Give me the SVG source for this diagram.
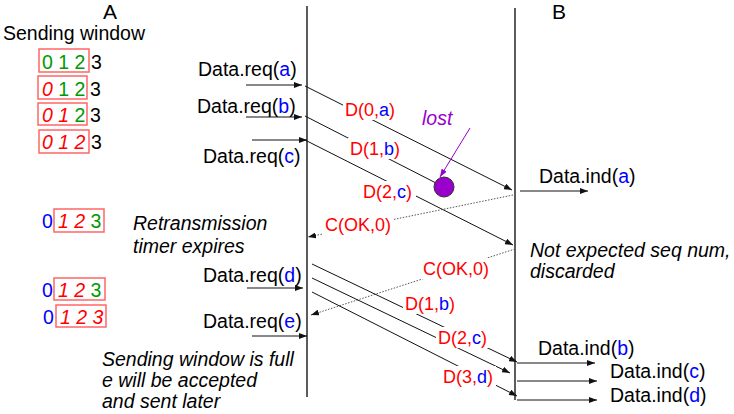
<svg xmlns="http://www.w3.org/2000/svg" width="734" height="414" viewBox="0 0 734 414">
<style>
text{font-family:"Liberation Sans",Arial,sans-serif;font-size:19.5px;fill:#000}
.lbl{font-size:18px;fill:#f00}
.hd{font-size:21px}
.it{font-style:italic}
.g{fill:#009900}
.r{fill:#f00;font-style:italic}
.b{fill:#00f}
.win{fill:none;stroke:#f66;stroke-width:1.5}
.ln{stroke:#111;stroke-width:1;fill:none}
.dot{stroke:#555;stroke-width:1;stroke-dasharray:1.5,1.5;fill:none}
.life{stroke:#333;stroke-width:1.6}
.bg{fill:#fff}
</style>
<defs>
<marker id="ah" markerUnits="userSpaceOnUse" markerWidth="8" markerHeight="6" refX="8" refY="3" orient="auto"><path d="M0,0 L8,3 L0,6 z" fill="#111"/></marker>
<marker id="ahp" markerUnits="userSpaceOnUse" markerWidth="8" markerHeight="6" refX="8" refY="3" orient="auto"><path d="M0,0 L8,3 L0,6 z" fill="#9900cc"/></marker>
</defs>

<g id="lifelines">
<line class="life" x1="307" y1="6" x2="307" y2="397"/>
<line class="life" x1="515" y1="8" x2="515" y2="400"/>
<text class="hd" x="103" y="19">A</text>
<text class="hd" x="552" y="19">B</text>
</g>

<g id="window-states">
<text x="3" y="40">Sending window</text>
<rect class="win" x="39" y="49" width="50" height="23"/>
<text x="42" y="69"><tspan class="g">0 1 2</tspan></text><text x="91" y="69">3</text>
<rect class="win" x="38" y="76" width="49" height="23"/>
<text x="42" y="96"><tspan class="r">0</tspan><tspan class="g"> 1 2</tspan></text><text x="90" y="96">3</text>
<rect class="win" x="38" y="103" width="49" height="22"/>
<text x="42" y="122"><tspan class="r">0 1</tspan><tspan class="g"> 2</tspan></text><text x="90" y="122">3</text>
<rect class="win" x="39" y="130" width="50" height="23"/>
<text x="42" y="149"><tspan class="r">0 1 2</tspan></text><text x="91" y="149">3</text>

<text x="42" y="228" class="b">0</text>
<rect class="win" x="54" y="209" width="50" height="23"/>
<text x="58" y="228"><tspan class="r">1 2</tspan><tspan class="g"> 3</tspan></text>
<text x="42" y="297" class="b">0</text>
<rect class="win" x="54" y="278" width="51" height="22"/>
<text x="58" y="297"><tspan class="r">1 2</tspan><tspan class="g"> 3</tspan></text>
<text x="43" y="324" class="b">0</text>
<rect class="win" x="56" y="305" width="50" height="22"/>
<text x="60" y="324"><tspan class="r">1 2 3</tspan></text>
</g>

<g id="connectors">
<line class="ln" x1="246" y1="85" x2="302" y2="85" marker-end="url(#ah)"/>
<line class="ln" x1="246" y1="117" x2="302" y2="117" marker-end="url(#ah)"/>
<line class="ln" x1="252" y1="140" x2="307" y2="140" marker-end="url(#ah)"/>
<line class="ln" x1="247" y1="288" x2="303" y2="288" marker-end="url(#ah)"/>
<line class="ln" x1="252" y1="336" x2="307" y2="336" marker-end="url(#ah)"/>

<line class="ln" x1="305" y1="86" x2="512" y2="190" marker-end="url(#ah)"/>
<line class="ln" x1="305" y1="116" x2="436" y2="183"/>
<line class="ln" x1="305" y1="140" x2="513" y2="245" marker-end="url(#ah)"/>
<line class="dot" x1="513" y1="195" x2="308" y2="237" marker-end="url(#ah)"/>
<line class="dot" x1="515" y1="249" x2="311" y2="315" marker-end="url(#ah)"/>
<line class="ln" x1="312" y1="264" x2="517" y2="362" marker-end="url(#ah)"/>
<line class="ln" x1="312" y1="278" x2="510" y2="373" marker-end="url(#ah)"/>
<line class="ln" x1="312" y1="292" x2="517" y2="396" marker-end="url(#ah)"/>

<line class="ln" x1="520" y1="191" x2="588" y2="191" marker-end="url(#ah)"/>
<line class="ln" x1="517" y1="363" x2="595" y2="363" marker-end="url(#ah)"/>
<line class="ln" x1="517" y1="381" x2="597" y2="381" marker-end="url(#ah)"/>
<line class="ln" x1="517" y1="400" x2="597" y2="400" marker-end="url(#ah)"/>

<line x1="470" y1="128" x2="440" y2="177" stroke="#9900cc" stroke-width="1" marker-end="url(#ahp)"/>
</g>

<g id="loss">
<circle cx="444" cy="187" r="10" fill="#9900cc" stroke="#333" stroke-width="1"/>
<text x="422" y="125" class="it" style="fill:#9900cc">lost</text>
</g>

<g id="message-labels">
<rect class="bg" x="343" y="99" width="55" height="21"/>
<text class="lbl" x="345" y="116">D(0,<tspan class="b">a</tspan>)</text>
<rect class="bg" x="348" y="138" width="55" height="21"/>
<text class="lbl" x="350" y="155">D(1,<tspan class="b">b</tspan>)</text>
<rect class="bg" x="361" y="181" width="55" height="21"/>
<text class="lbl" x="363" y="198">D(2,<tspan class="b">c</tspan>)</text>
<rect class="bg" x="323" y="214" width="70" height="21"/>
<text class="lbl" x="325" y="231">C(OK,0)</text>
<rect class="bg" x="421" y="258" width="70" height="21"/>
<text class="lbl" x="423" y="275">C(OK,0)</text>
<rect class="bg" x="403" y="293" width="55" height="21"/>
<text class="lbl" x="405" y="310">D(1,<tspan class="b">b</tspan>)</text>
<rect class="bg" x="436" y="327" width="55" height="21"/>
<text class="lbl" x="438" y="344">D(2,<tspan class="b">c</tspan>)</text>
<rect class="bg" x="441" y="366" width="55" height="21"/>
<text class="lbl" x="443" y="383">D(3,<tspan class="b">d</tspan>)</text>
</g>

<g id="primitives">
<text x="198" y="76">Data.req(<tspan class="b">a</tspan>)</text>
<text x="197" y="113">Data.req(<tspan class="b">b</tspan>)</text>
<text x="203" y="163">Data.req(<tspan class="b">c</tspan>)</text>
<text x="203" y="282">Data.req(<tspan class="b">d</tspan>)</text>
<text x="203" y="328">Data.req(<tspan class="b">e</tspan>)</text>
<text x="539" y="183">Data.ind(<tspan class="b">a</tspan>)</text>
<text x="538" y="355">Data.ind(<tspan class="b">b</tspan>)</text>
<text x="610" y="378">Data.ind(<tspan class="b">c</tspan>)</text>
<text x="610" y="402">Data.ind(<tspan class="b">d</tspan>)</text>
</g>

<g id="notes">
<text class="it" x="133" y="230">Retransmission</text>
<text class="it" x="133" y="253">timer expires</text>
<text class="it" x="530" y="257">Not expected seq num,</text>
<text class="it" x="530" y="278">discarded</text>
<text class="it" x="102" y="366">Sending window is full</text>
<text class="it" x="102" y="387">e will be accepted</text>
<text class="it" x="102" y="408">and sent later</text>
</g>
</svg>
